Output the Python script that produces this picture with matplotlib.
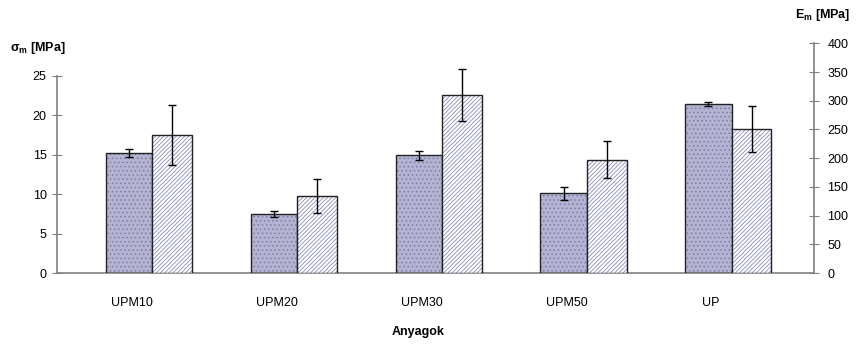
import matplotlib
matplotlib.use("Agg")
import matplotlib.pyplot as plt
import numpy as np

plt.rcParams['font.family'] = ['Liberation Sans', 'DejaVu Sans']
plt.rcParams['hatch.linewidth'] = 0.6

# data
categories = ['UPM10', 'UPM20', 'UPM30', 'UPM50', 'UP']
sigma = [15.2, 7.5, 14.9, 10.1, 21.4]        # left axis, sigma_m [MPa]
sigma_err = [0.5, 0.35, 0.6, 0.8, 0.2]
E = [240, 134, 310, 197, 251]                # right axis, E_m [MPa]
E_err = [52, 29, 46, 32, 40]

x = np.arange(len(categories))
gray = '#808080'

fig = plt.figure(figsize=(8.56, 3.49), dpi=100)
ax = fig.add_axes([57/856, 1 - 273/349, (814 - 57)/856, (273 - 43.3)/349])
ax2 = ax.twinx()

# sigma bars (dotted fill)
d0, dw = -0.18, 0.321
ax.bar(x + d0, sigma, dw, align='edge', color='#b4b4d2', edgecolor='#7a7aaa',
       hatch='....', linewidth=0, zorder=2)
ax.bar(x + d0, sigma, dw, align='edge', fill=False, edgecolor='#222222',
       linewidth=1.0, zorder=3)
ax.errorbar(x + d0 + dw/2, sigma, yerr=sigma_err, fmt='none', ecolor='black',
            elinewidth=1, capsize=3, capthick=1, zorder=4)

# E bars (diagonal hatch)
h0, hw = d0 + dw, 0.275
ax2.bar(x + h0, E, hw, align='edge', color='white', edgecolor='#8c8cbc',
        hatch='/' * 8, linewidth=0, zorder=2)
ax2.bar(x + h0, E, hw, align='edge', fill=False, edgecolor='#222222',
        linewidth=1.0, zorder=3)
ax2.errorbar(x + h0 + hw/2, E, yerr=E_err, fmt='none', ecolor='black',
             elinewidth=1, capsize=3, capthick=1, zorder=4)

ax.set_xlim(-0.518, 4.71)
ax.set_ylim(0, 29.08)
ax2.set_ylim(0, 400)
ax.set_yticks(np.arange(0, 26, 5))
ax2.set_yticks(np.arange(0, 401, 50))
ax.set_xticks(x)
ax.set_xticklabels(categories)

for a in (ax, ax2):
    a.spines['top'].set_visible(False)
    for s in ('left', 'right', 'bottom'):
        a.spines[s].set_color(gray)
        a.spines[s].set_linewidth(1.2)
ax.spines['right'].set_visible(False)
ax2.spines['left'].set_visible(False)
ax2.spines['bottom'].set_visible(False)
ax.spines['left'].set_bounds(0, 25)

ax.tick_params(axis='y', direction='inout', length=7, color=gray, labelsize=9, pad=4)
ax2.tick_params(axis='y', direction='inout', length=7, color=gray, labelsize=9, pad=6)
ax.tick_params(axis='x', length=0, labelsize=9, pad=17)

fig.text(10/856, 1 - 48/349, r'σ$_\mathregular{m}$ [MPa]', fontsize=9,
         fontweight='bold', va='center', ha='left')
fig.text(795/856, 1 - 15/349, r'E$_\mathregular{m}$ [MPa]', fontsize=9,
         fontweight='bold', va='center', ha='left')
fig.text(418/856, 1 - 332/349, 'Anyagok', fontsize=9, fontweight='bold',
         va='center', ha='center')

fig.savefig('out.png', dpi=100)
